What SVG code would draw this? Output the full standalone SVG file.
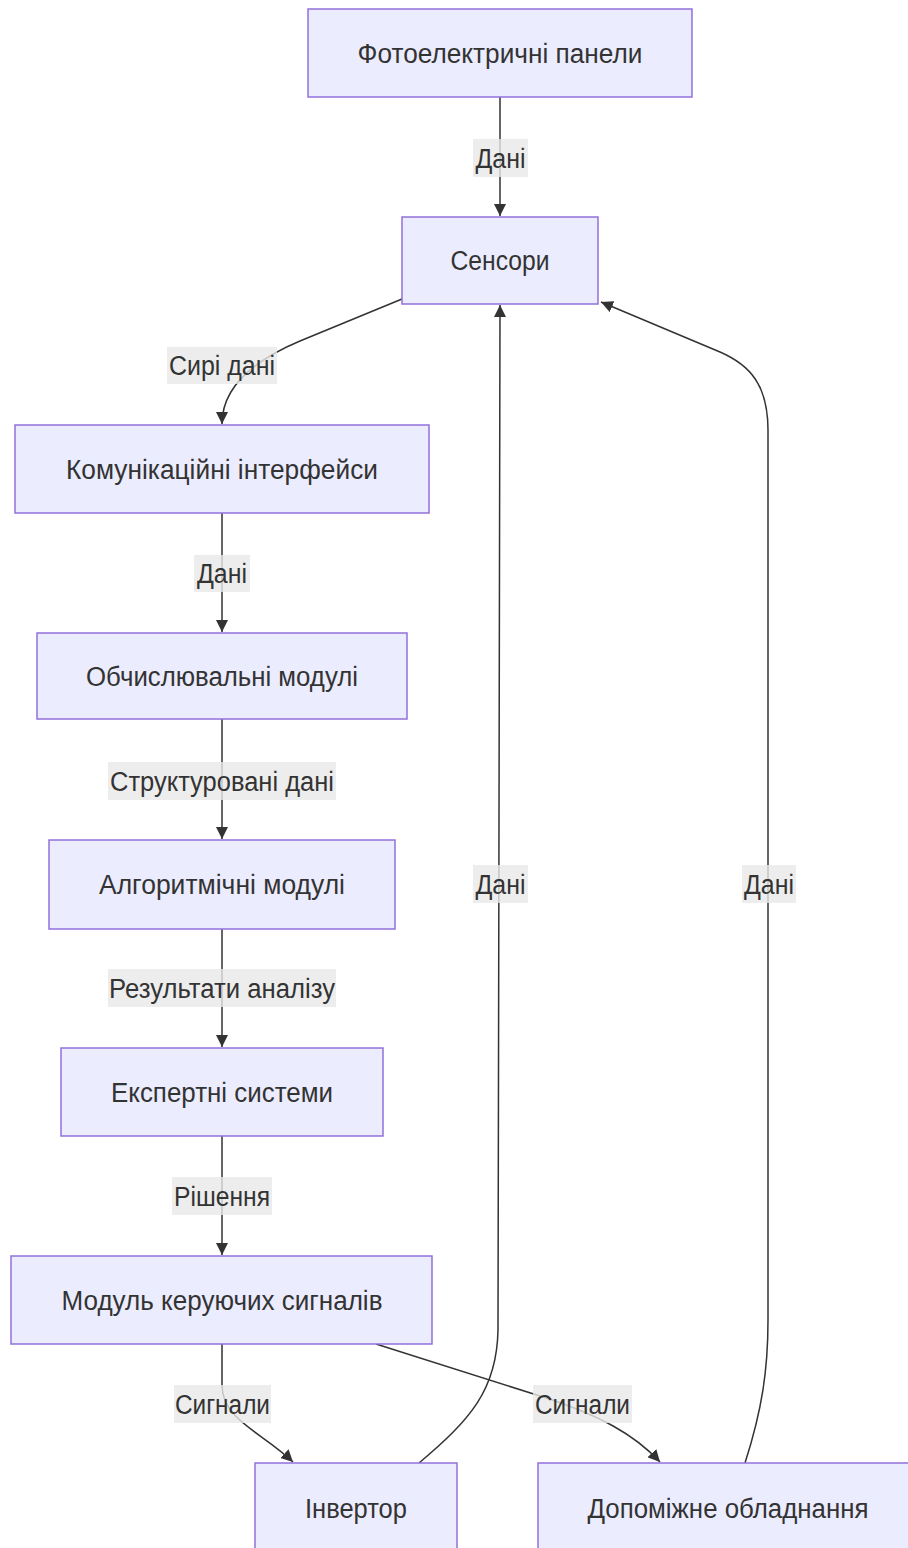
<svg xmlns="http://www.w3.org/2000/svg" width="908" height="1548" viewBox="0 0 908 1548">
  <style>
    .node rect { fill: #ECECFF; stroke: #9370DB; stroke-width: 1.5; }
    .node text, .label text { font-family: "Liberation Sans", "DejaVu Sans", sans-serif; font-size: 27px; fill: #333; text-anchor: middle; }
    .edge { fill: none; stroke: #333; stroke-width: 1.5; marker-end: url(#arrow); }
    .label rect { fill: #e8e8e8; fill-opacity: 0.8; }
  </style>
  <defs>
    <marker id="arrow" viewBox="0 0 10 10" refX="10" refY="5" markerWidth="12" markerHeight="12" markerUnits="userSpaceOnUse" orient="auto">
      <path d="M0,0 L10,5 L0,10 z" fill="#333"/>
    </marker>
  </defs>
  <rect width="908" height="1548" fill="#ffffff"/>

  <!-- connectors -->
  <g id="edges">
    <path class="edge" d="M500,97 L500,216"/>
    <path class="edge" d="M402,299 L300,341 C250,362 222,390 222,424"/>
    <path class="edge" d="M222,513 L222,632"/>
    <path class="edge" d="M222,719 L222,839"/>
    <path class="edge" d="M222,929 L222,1047"/>
    <path class="edge" d="M222,1136 L222,1255"/>
    <path class="edge" d="M222,1344 L222,1385 C222,1420 262,1432 293,1462"/>
    <path class="edge" d="M376,1344 L540,1396 C600,1415 635,1435 660,1462"/>
    <path class="edge" d="M419,1463 C470,1420 497,1390 498,1330 L500,305"/>
    <path class="edge" d="M745,1463 C762,1410 768,1370 768,1320 L768,430 C768,385 750,365 720,352 L601,302"/>
  </g>

  <!-- edge labels -->
  <g id="edge-labels">
    <g class="label"><rect x="473" y="139" width="55" height="38"/><text x="500.5" y="168" textLength="50" lengthAdjust="spacingAndGlyphs">Дані</text></g>
    <g class="label"><rect x="167" y="347" width="110" height="37"/><text x="222" y="375" textLength="106" lengthAdjust="spacingAndGlyphs">Сирі дані</text></g>
    <g class="label"><rect x="194" y="555" width="56" height="37"/><text x="222" y="583" textLength="50" lengthAdjust="spacingAndGlyphs">Дані</text></g>
    <g class="label"><rect x="108" y="762" width="228" height="38"/><text x="222" y="791" textLength="224" lengthAdjust="spacingAndGlyphs">Структуровані дані</text></g>
    <g class="label"><rect x="108" y="969" width="228" height="38"/><text x="222" y="998" textLength="226" lengthAdjust="spacingAndGlyphs">Результати аналізу</text></g>
    <g class="label"><rect x="172" y="1177" width="100" height="38"/><text x="222" y="1206" textLength="96" lengthAdjust="spacingAndGlyphs">Рішення</text></g>
    <g class="label"><rect x="473" y="865" width="55" height="38"/><text x="500.5" y="894" textLength="50" lengthAdjust="spacingAndGlyphs">Дані</text></g>
    <g class="label"><rect x="742" y="865" width="54" height="38"/><text x="769" y="894" textLength="50" lengthAdjust="spacingAndGlyphs">Дані</text></g>
    <g class="label"><rect x="174" y="1385" width="97" height="38"/><text x="222.5" y="1414" textLength="95" lengthAdjust="spacingAndGlyphs">Сигнали</text></g>
    <g class="label"><rect x="533" y="1385" width="99" height="38"/><text x="582.5" y="1414" textLength="95" lengthAdjust="spacingAndGlyphs">Сигнали</text></g>
  </g>

  <!-- nodes -->
  <g id="panels" class="node"><rect x="308" y="9" width="384" height="88"/><text x="500" y="63" textLength="285" lengthAdjust="spacingAndGlyphs">Фотоелектричні панели</text></g>
  <g id="sensors" class="node"><rect x="402" y="217" width="196" height="87"/><text x="500" y="270" textLength="99" lengthAdjust="spacingAndGlyphs">Сенсори</text></g>
  <g id="comm" class="node"><rect x="15" y="425" width="414" height="88"/><text x="222" y="479" textLength="312" lengthAdjust="spacingAndGlyphs">Комунікаційні інтерфейси</text></g>
  <g id="compute" class="node"><rect x="37" y="633" width="370" height="86"/><text x="222" y="686" textLength="272" lengthAdjust="spacingAndGlyphs">Обчислювальні модулі</text></g>
  <g id="algo" class="node"><rect x="49" y="840" width="346" height="89"/><text x="222" y="894" textLength="246" lengthAdjust="spacingAndGlyphs">Алгоритмічні модулі</text></g>
  <g id="expert" class="node"><rect x="61" y="1048" width="322" height="88"/><text x="222" y="1102" textLength="222" lengthAdjust="spacingAndGlyphs">Експертні системи</text></g>
  <g id="control" class="node"><rect x="11" y="1256" width="421" height="88"/><text x="222" y="1310" textLength="321" lengthAdjust="spacingAndGlyphs">Модуль керуючих сигналів</text></g>
  <g id="inverter" class="node"><rect x="255" y="1463" width="202" height="100"/><text x="356" y="1518" textLength="102" lengthAdjust="spacingAndGlyphs">Інвертор</text></g>
  <g id="aux" class="node"><rect x="538" y="1463" width="380" height="100"/><text x="728" y="1518" textLength="281" lengthAdjust="spacingAndGlyphs">Допоміжне обладнання</text></g>
</svg>
